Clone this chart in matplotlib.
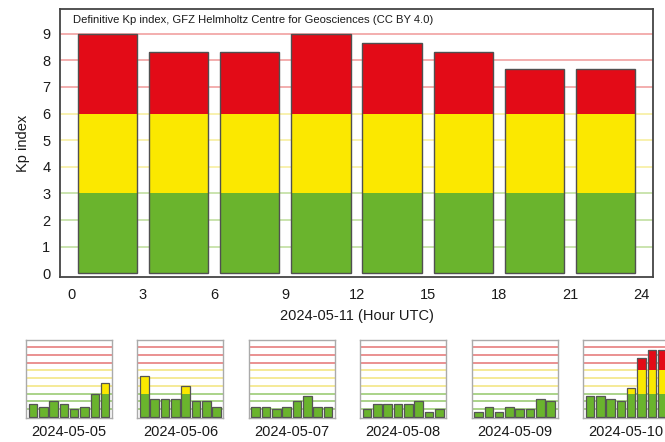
import matplotlib
matplotlib.use("Agg")
import matplotlib.pyplot as plt
import numpy as np

plt.rcParams['font.family'] = ['Liberation Sans', 'DejaVu Sans']

# three-hourly Kp values for the main day
main_day = "2024-05-11"
main_kp = [9.0, 8.33, 8.33, 9.0, 8.67, 8.33, 7.67, 7.67]

# previous days, shown as thumbnails
prev_days = ["2024-05-05", "2024-05-06", "2024-05-07",
             "2024-05-08", "2024-05-09", "2024-05-10"]
prev_kp = [
    [1.67, 1.33, 2.0, 1.67, 1.0, 1.33, 3.0, 4.33],
    [5.33, 2.33, 2.33, 2.33, 4.0, 2.0, 2.0, 1.33],
    [1.33, 1.33, 1.0, 1.33, 2.0, 2.67, 1.33, 1.33],
    [1.0, 1.67, 1.67, 1.67, 1.67, 2.0, 0.67, 1.0],
    [0.67, 1.33, 0.67, 1.33, 1.0, 1.0, 2.33, 2.0],
    [2.67, 2.67, 2.33, 2.0, 3.67, 7.67, 8.67, 8.67],
]

hours = np.arange(0, 24, 3) + 1.5

GREEN = '#6ab42d'
YELLOW = '#fbe800'
RED = '#e30b17'
GRID_COLS = {1: '#c6e2a8', 2: '#c6e2a8', 3: '#c6e2a8',
             4: '#f8f0a8', 5: '#f8f0a8', 6: '#f8f0a8',
             7: '#f2a8a8', 8: '#f2a8a8', 9: '#f2a8a8'}
SMALL_GRID = {1: '#a4d080', 2: '#a4d080', 3: '#a4d080',
              4: '#f4e890', 5: '#f4e890', 6: '#f4e890',
              7: '#e88888', 8: '#e88888', 9: '#e88888'}
TEXT = '#1a1a1a'


def draw_kp(ax, kp, grid_cols, edge, lw):
    kp = np.array(kp)
    for level, col in grid_cols.items():
        ax.axhline(level, color=col, lw=1.3, zorder=0)
    g = np.minimum(kp, 3)
    y = np.clip(kp, 3, 6) - 3
    r = np.clip(kp, 6, 9) - 6
    ax.bar(hours, g, width=2.5, color=GREEN, zorder=2)
    ax.bar(hours, y, bottom=3, width=2.5, color=YELLOW, zorder=2)
    ax.bar(hours, r, bottom=6, width=2.5, color=RED, zorder=2)
    ax.bar(hours, kp, width=2.5, fill=False, edgecolor=edge, lw=lw, zorder=3)
    ax.set_xlim(-0.5, 24.5)
    ax.set_ylim(-0.14, 9.93)


fig = plt.figure(figsize=(6.65, 4.42), dpi=100)

ax = fig.add_axes([60 / 665, 1 - 277 / 442, 593 / 665, 268 / 442])
draw_kp(ax, main_kp, GRID_COLS, '#505050', 1.0)
ax.set_xticks(range(0, 25, 3))
ax.set_yticks(range(0, 10))
ax.tick_params(length=0, labelsize=10.5, pad=7, colors=TEXT)
ax.tick_params(axis='x', pad=8)
for s in ax.spines.values():
    s.set_color('#444444')
    s.set_linewidth(1.3)
ax.set_xlabel(main_day + " (Hour UTC)", fontsize=10.5, color=TEXT, labelpad=5)
ax.set_ylabel("Kp index", fontsize=10.5, color=TEXT, labelpad=9)
ax.text(0.0214, 0.96, "Definitive Kp index, GFZ Helmholtz Centre for Geosciences (CC BY 4.0)",
        transform=ax.transAxes, fontsize=8.1, color=TEXT, va='center', ha='left')

for i, (day, kp) in enumerate(zip(prev_days, prev_kp)):
    left = 26 + 111.4 * i
    sax = fig.add_axes([left / 665, 1 - 418 / 442, 86 / 665, 78 / 442])
    draw_kp(sax, kp, SMALL_GRID, '#555555', 0.9)
    sax.set_xticks([])
    sax.set_yticks([])
    for s in sax.spines.values():
        s.set_color('#aaaaaa')
        s.set_linewidth(1.0)
    sax.set_xlabel(day, fontsize=10.5, color=TEXT, labelpad=5)

fig.savefig("out.png", dpi=100)
